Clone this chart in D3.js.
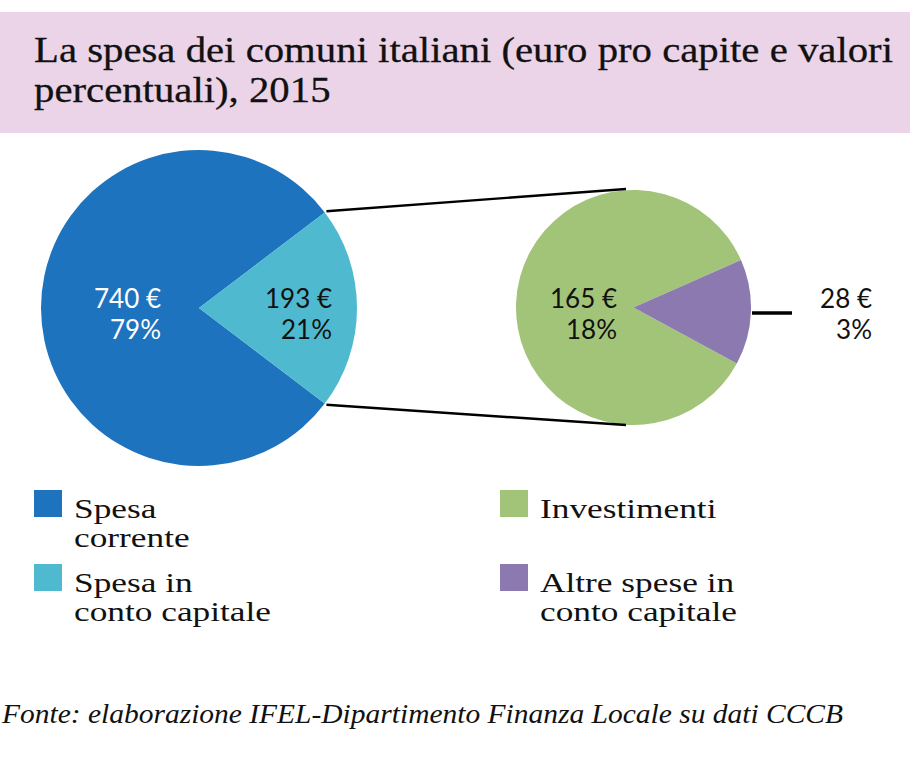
<!DOCTYPE html>
<html><head><meta charset="utf-8">
<script src="https://cdn.jsdelivr.net/npm/d3@7"></script>
<style>
html,body{margin:0;padding:0;background:#fff;}
svg{display:block;}
.serif{font-family:"Liberation Serif",serif;}
.sans{font-family:Lato,"Noto Sans",sans-serif;}
</style></head>
<body>
<svg id="chart" width="912" height="757"></svg>
<script>
// ---- data ----
const titleLines = ["La spesa dei comuni italiani (euro pro capite e valori", "percentuali), 2015"];
const mainCategories = ["Spesa corrente", "Spesa in conto capitale"];
const mainValues = [740, 193];
const mainPercents = ["79%", "21%"];
const subCategories = ["Investimenti", "Altre spese in conto capitale"];
const subValues = [165, 28];
const subPercents = ["18%", "3%"];
const mainColors = ["#1e73be", "#4fb9d0"];
const subColors = ["#a2c479", "#8b79b0"];
const legendLeft = [["Spesa", "corrente"], ["Spesa in", "conto capitale"]];
const legendRight = [["Investimenti"], ["Altre spese in", "conto capitale"]];
const sourceText = "Fonte: elaborazione IFEL-Dipartimento Finanza Locale su dati CCCB";

const svg = d3.select("#chart");

function condense(sel, f) {
  sel.each(function() {
    const w = this.getComputedTextLength();
    d3.select(this).attr("textLength", w * f).attr("lengthAdjust", "spacingAndGlyphs");
  });
}

// title band
svg.append("rect").attr("x", 0).attr("y", 12).attr("width", 910).attr("height", 121).attr("fill", "#ebd4e7");
const titleTexts = titleLines.map((t, i) => svg.append("text").attr("class", "serif").attr("x", 34).attr("y", 62 + i * 40)
  .attr("font-size", 36).attr("fill", "#111").attr("stroke", "#111").attr("stroke-width", 0.3).text(t));
const titleF = 859 / titleTexts[0].node().getComputedTextLength();
titleTexts.forEach(t => condense(t, titleF));

// ---- main pie ----
const c1 = {x: 199, y: 308, r: 158};
const total1 = d3.sum(mainValues);
const half1 = Math.PI * mainValues[1] / total1;
const pie1 = d3.pie().sort(null).startAngle(Math.PI / 2 + half1).endAngle(Math.PI / 2 + half1 + 2 * Math.PI);
const arcs1 = pie1(mainValues);
const arc1 = d3.arc().innerRadius(0).outerRadius(c1.r);
const g1 = svg.append("g").attr("transform", `translate(${c1.x},${c1.y})`);
g1.selectAll("path").data(arcs1).join("path").attr("d", arc1).attr("fill", (d, i) => mainColors[i]);

// ---- sub pie ----
const c2 = {x: 633.5, y: 307.5, r: 117.5};
const total2 = d3.sum(subValues);
const half2 = Math.PI * subValues[1] / total2;
const tilt = 0.04;
const pie2 = d3.pie().sort(null).startAngle(Math.PI / 2 + tilt + half2).endAngle(Math.PI / 2 + tilt + half2 + 2 * Math.PI);
const arcs2 = pie2(subValues);
const arc2 = d3.arc().innerRadius(0).outerRadius(c2.r);
const g2 = svg.append("g").attr("transform", `translate(${c2.x},${c2.y})`);
g2.selectAll("path").data(arcs2).join("path").attr("d", arc2).attr("fill", (d, i) => subColors[i]);

// connector lines
const pt = (c, a, r) => [c.x + r * Math.sin(a), c.y - r * Math.cos(a)];
const aTop = Math.PI / 2 - half1, aBot = Math.PI / 2 + half1;
const p1 = pt(c1, aTop, c1.r + 2), p2 = pt(c1, aBot, c1.r + 2);
const lines = [[p1, [626, 189]], [p2, [626, 425]]];
svg.selectAll("line.conn").data(lines).join("line").attr("class", "conn")
  .attr("x1", d => d[0][0]).attr("y1", d => d[0][1]).attr("x2", d => d[1][0]).attr("y2", d => d[1][1])
  .attr("stroke", "#000").attr("stroke-width", 2.4);
svg.append("line").attr("x1", 752).attr("x2", 792).attr("y1", 313).attr("y2", 313)
  .attr("stroke", "#000").attr("stroke-width", 3.5);

// value labels
const labels = [
  {x: 161, v: mainValues[0], p: mainPercents[0], fill: "#fff"},
  {x: 332, v: mainValues[1], p: mainPercents[1], fill: "#111"},
  {x: 617, v: subValues[0], p: subPercents[0], fill: "#111"},
  {x: 872, v: subValues[1], p: subPercents[1], fill: "#111"}
];
labels.forEach(l => {
  [l.v + " €", l.p].forEach((s, j) => {
    svg.append("text").attr("class", "sans").attr("text-anchor", "end")
      .attr("font-size", 26).attr("fill", l.fill).attr("x", l.x).attr("y", 308 + j * 31).text(s);
  });
});

// legend
const legendTexts = [];
function legend(items, colors, sx, tx) {
  items.forEach((lines, i) => {
    const y0 = 490 + i * 74;
    svg.append("rect").attr("x", sx).attr("y", y0).attr("width", 28).attr("height", 27).attr("fill", colors[i]);
    lines.forEach((ln, j) => {
      legendTexts.push(svg.append("text").attr("class", "serif").attr("font-size", 28).attr("fill", "#111")
        .attr("x", tx).attr("y", y0 + 28 + j * 29).text(ln));
    });
  });
}
legend(legendLeft, mainColors, 34, 74);
legend(legendRight, subColors, 500, 540);
const legF = 197 / legendTexts[3].node().getComputedTextLength();
legendTexts.forEach(t => condense(t, legF));

// source
const src = svg.append("text").attr("class", "serif").attr("font-style", "italic").attr("font-size", 28)
  .attr("x", 2).attr("y", 723).attr("fill", "#111").text(sourceText);
src.attr("textLength", 841).attr("lengthAdjust", "spacingAndGlyphs");
</script>
</body></html>
